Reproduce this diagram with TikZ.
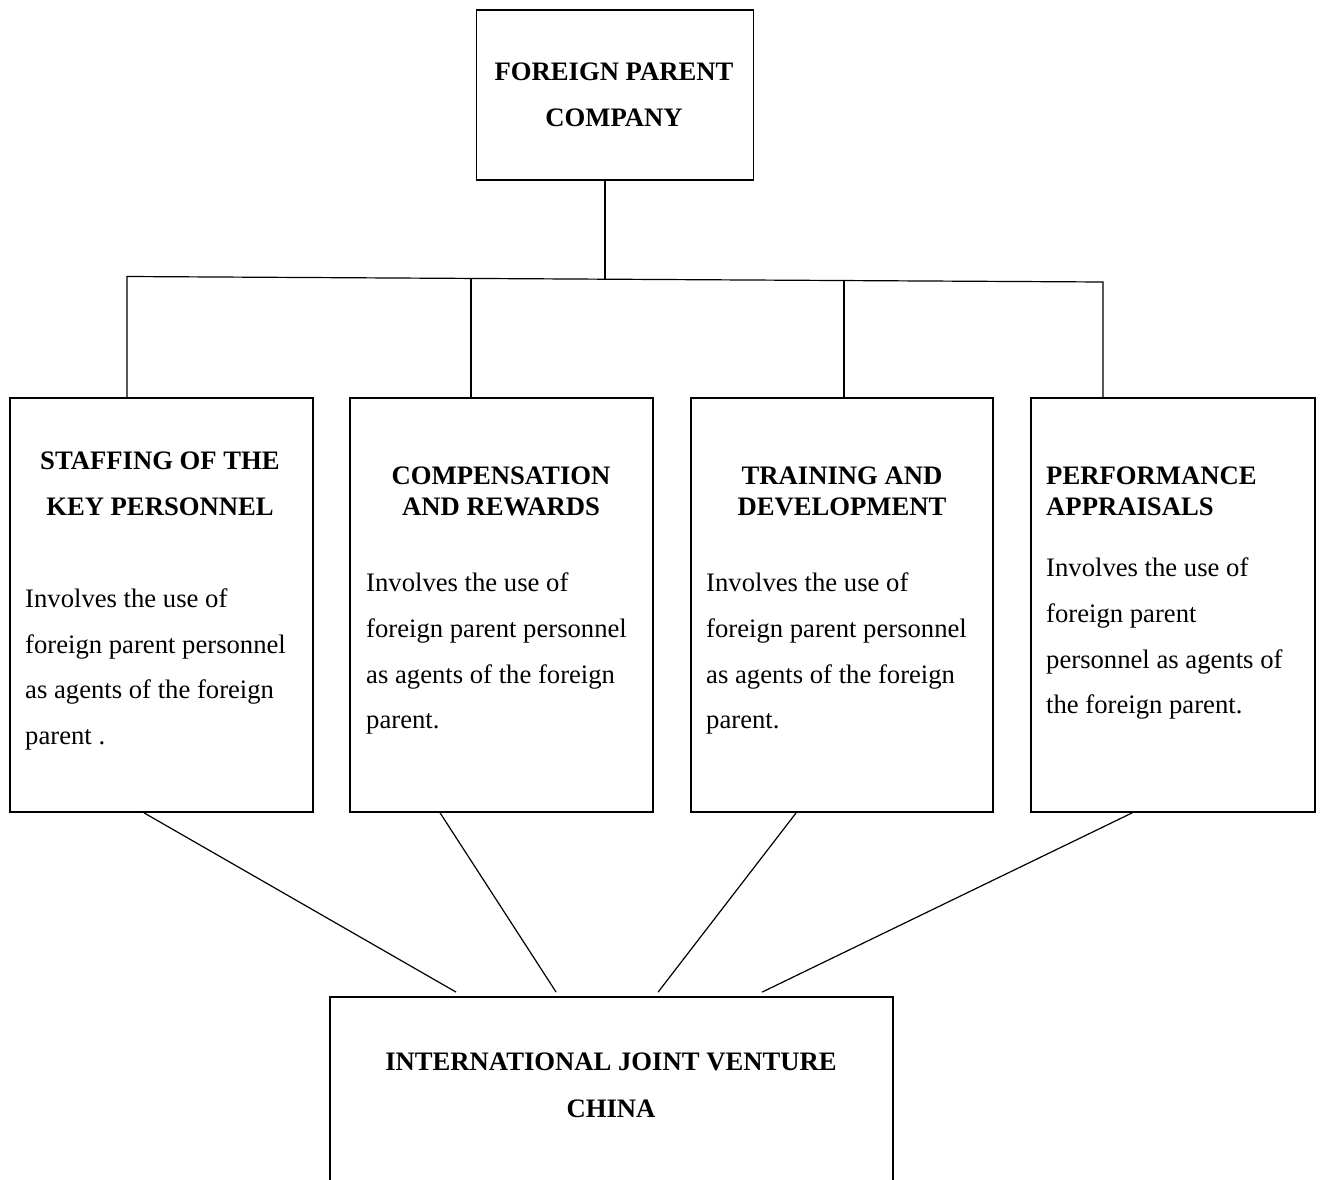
\documentclass[tikz,border=0pt]{standalone}
\usepackage{fontspec}
\setmainfont{Liberation Serif}
\usetikzlibrary{calc}
\begin{document}
\begin{tikzpicture}[x=1pt,y=-1pt,
  box/.style={draw, line width=1.8pt, inner sep=0pt, fill=none},
  conn/.style={line width=1.2pt},
  head/.style={inner sep=0pt, font=\fontsize{26.67}{46}\selectfont\bfseries, align=center, anchor=north},
  headtight/.style={inner sep=0pt, font=\fontsize{26.67}{31}\selectfont\bfseries, anchor=north},
  body/.style={inner sep=0pt, font=\fontsize{26.67}{45.6}\selectfont, align=left, anchor=north west}]
\useasboundingbox (0,0) rectangle (1320,1180);
\clip (0,0) rectangle (1320,1180);
% boxes
\node[box, minimum width=277pt, minimum height=170pt] (top) at (615,95) {};
\node[box, minimum width=303pt, minimum height=414pt] (b1) at (161.5,605) {};
\node[box, minimum width=303pt, minimum height=414pt] (b2) at (501.5,605) {};
\node[box, minimum width=302pt, minimum height=414pt] (b3) at (842,605) {};
\node[box, minimum width=284pt, minimum height=414pt] (b4) at (1173,605) {};
\node[box, minimum width=563pt, minimum height=203pt] (ijv) at (611.5,1098.5) {};
% texts
\node[head] (ttop) at (614,63) {FOREIGN PARENT\\COMPANY};
\node[inner sep=0pt, font=\fontsize{26.67}{45.5}\selectfont\bfseries, align=center, anchor=north] (h1) at (160,452) {STAFFING OF THE\\KEY PERSONNEL};
\node[headtight, align=center] (h2) at (501,467) {COMPENSATION\\AND REWARDS};
\node[headtight, align=center] (h3) at (842,467) {TRAINING AND\\DEVELOPMENT};
\node[headtight, align=left, anchor=north west] (h4) at (1046,467) {PERFORMANCE\\APPRAISALS};
\node[body] (t1) at (25,588.5) {Involves the use of\\foreign parent personnel\\as agents of the foreign\\parent .};
\node[body] (t2) at (366,573) {Involves the use of\\foreign parent personnel\\as agents of the foreign\\parent.};
\node[body] (t3) at (706,573) {Involves the use of\\foreign parent personnel\\as agents of the foreign\\parent.};
\node[body] (t4) at (1046,558) {Involves the use of\\foreign parent\\personnel as agents of\\the foreign parent.};
\node[inner sep=0pt, font=\fontsize{26.67}{47}\selectfont\bfseries, align=center, anchor=north] (tijv) at (611,1053) {INTERNATIONAL JOINT VENTURE\\CHINA};
% bus
\coordinate (busL) at (127,276.5);
\coordinate (busR) at (1103,282);
\coordinate (bus2) at ($(busL)!0.3525!(busR)$);
\coordinate (bus3) at ($(busL)!0.7346!(busR)$);
\coordinate (busT) at ($(busL)!0.4898!(busR)$);
\draw[conn] (top.south -| busT) -- (busT);
\draw[conn] (b1.north -| busL) -- (busL) -- (busR) -- (b4.north -| busR);
\draw[conn] (bus2) -- (b2.north -| bus2);
\draw[conn] (bus3) -- (b3.north -| bus3);
% diagonals
\draw[conn] ($(b1.south west)+(135,0)$) -- ($(ijv.north west)+(127,-4)$);
\draw[conn] ($(b2.south west)+(91,0)$) -- ($(ijv.north west)+(227,-4)$);
\draw[conn] ($(b3.south west)+(106,0)$) -- ($(ijv.north west)+(329,-4)$);
\draw[conn] ($(b4.south west)+(102,0)$) -- ($(ijv.north west)+(433,-4)$);
\end{tikzpicture}
\end{document}
